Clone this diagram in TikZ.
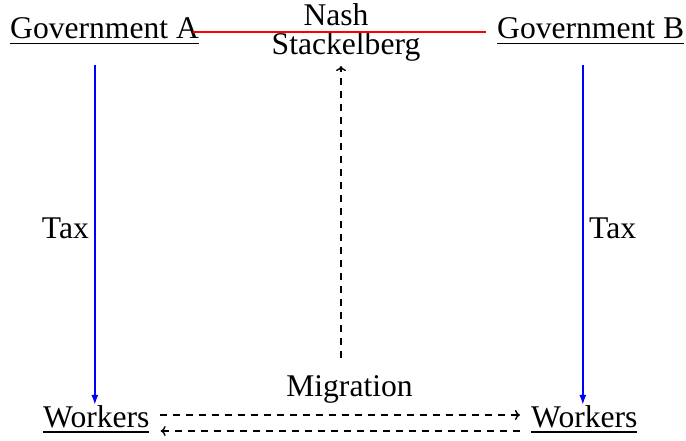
\documentclass[tikz,border=0pt]{standalone}
\usepackage{fontspec}
\setmainfont{LiberationSerif}[Extension=.ttf, UprightFont=*-Regular]
\usetikzlibrary{arrows.meta,calc}
\newcommand{\myul}[1]{\setbox0\hbox{#1}\rlap{\rule[-5.5pt]{\wd0}{1.6pt}}\box0}
\tikzset{
  txt/.style={inner sep=0pt, font=\rmfamily\fontsize{31.6}{38}\selectfont},
  taxarrow/.style={draw=blue, line width=1.6pt, -{Latex[length=10pt,width=7pt]}},
  gamelink/.style={draw=red, line width=1.8pt},
  dasharrow/.style={draw=black, line width=1.4pt, dash pattern=on 7pt off 6pt, -{To[length=5pt,width=10pt]}}
}
\begin{document}
\begin{tikzpicture}[x=1pt,y=-1pt]
\useasboundingbox (0,0) rectangle (686,441);
% nodes
\node[txt, anchor=base west] (gA) at (10,39) {\myul{Government A}};
\node[txt, anchor=base west] (gB) at (497,39) {\myul{Government B}};
\node[txt, anchor=base] (nash) at (336,26) {Nash};
\node[txt, anchor=base] (stack) at (346,55) {Stackelberg};
\node[txt, anchor=base west] (wA) at (43,427) {\myul{Workers}};
\node[txt, anchor=base west] (wB) at (531,427) {\myul{Workers}};
\node[txt, anchor=base] (mig) at (349.5,396) {Migration};
\node[txt, anchor=base east] (taxA) at (89,238) {Tax};
\node[txt, anchor=base west] (taxB) at (589,238) {Tax};
% connectors
\draw[gamelink] ([xshift=-6pt,yshift=7pt]gA.base east) -- ([xshift=-11pt,yshift=7pt]gB.base west);
\draw[taxarrow] ($(wA.north |- gA.south)+(-1.5,20.5)$) -- ([xshift=-1.5pt]wA.north);
\draw[taxarrow] ($(wB.north |- gB.south)+(-1.5,20.5)$) -- ([xshift=-1.5pt]wB.north);
\draw[dasharrow] ($(mig.north -| 341,0)+(0,-17)$) -- ($(stack.south -| 341,0)+(0,4)$);
\draw[dasharrow] ([xshift=10pt,yshift=12pt]wA.base east) -- ([xshift=-11pt,yshift=12pt]wB.base west);
\draw[dasharrow] ([xshift=-11pt,yshift=-4pt]wB.base west) -- ([xshift=11pt,yshift=-4pt]wA.base east);
\end{tikzpicture}
\end{document}
